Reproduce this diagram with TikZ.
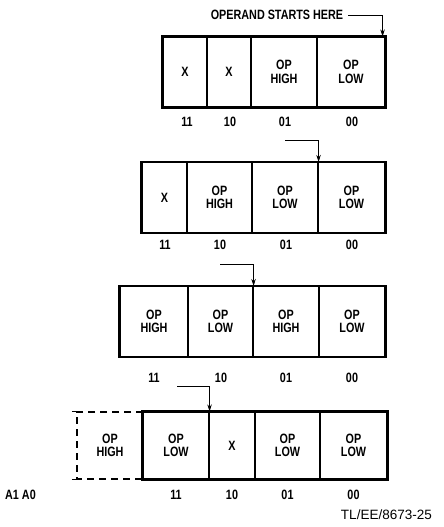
\documentclass[tikz,border=0pt]{standalone}
\usepackage{fontspec}
\setmainfont{Liberation Sans}[FakeStretch=0.8]
\newfontfamily\figfont{Liberation Sans}
\usetikzlibrary{arrows.meta}
\begin{document}
\begin{tikzpicture}[x=1pt,y=-1pt,
  every node/.style={font=\bfseries\fontsize{13.5}{13.5}\selectfont},
  cell/.style={draw,line width=1.1pt,inner sep=0pt,minimum height=70pt,align=center},
  outer/.style={line width=2.4pt},
  lbl/.style={inner sep=0pt},
  ptr/.style={line width=0.8pt,-{Stealth[length=7pt,width=4.5pt]}}]
\useasboundingbox (0,0) rectangle (444,527);
% ---- row 1
\node[cell,minimum width=44pt] (a1) at (185,72) {X};
\node[cell,minimum width=44pt] (a2) at (229,72) {X};
\node[cell,minimum width=66pt] (a3) at (284,72) {OP\\HIGH};
\node[cell,minimum width=68pt] (a4) at (351,72) {OP\\LOW};
\draw[outer] (a1.north west) rectangle (a4.south east);
\node[lbl] (la1) at (187,122) {11};
\node[lbl] (la2) at (230,122) {10};
\node[lbl] (la3) at (285,122) {01};
\node[lbl] (la4) at (352,122) {00};
\node[lbl] (t1) at (277,15) {OPERAND STARTS HERE};
\coordinate (ea) at ([xshift=-3pt]a4.north east);
\draw[ptr] ([xshift=5pt]t1.east) -| (ea);
% ---- row 2
\node[cell,minimum width=45pt] (b1) at (164.5,197.5) {X};
\node[cell,minimum width=65pt] (b2) at (219.5,197.5) {OP\\HIGH};
\node[cell,minimum width=66pt] (b3) at (285,197.5) {OP\\LOW};
\node[cell,minimum width=67pt] (b4) at (351.5,197.5) {OP\\LOW};
\draw[outer] (b1.north west) rectangle (b4.south east);
\node[lbl] (lb1) at (165,245) {11};
\node[lbl] (lb2) at (220,245) {10};
\node[lbl] (lb3) at (286,245) {01};
\node[lbl] (lb4) at (352,245) {00};
\coordinate (sb) at (285,140);
\draw[ptr] (sb) -| (b3.north east);
% ---- row 3
\node[cell,minimum width=68pt] (c1) at (154,321.5) {OP\\HIGH};
\node[cell,minimum width=65pt] (c2) at (220.5,321.5) {OP\\LOW};
\node[cell,minimum width=66pt] (c3) at (286,321.5) {OP\\HIGH};
\node[cell,minimum width=66pt] (c4) at (352,321.5) {OP\\LOW};
\draw[outer] (c1.north west) rectangle (c4.south east);
\node[lbl] (lc1) at (154,378) {11};
\node[lbl] (lc2) at (221,378) {10};
\node[lbl] (lc3) at (286,378) {01};
\node[lbl] (lc4) at (352,378) {00};
\coordinate (sc) at (220,264);
\draw[ptr] (sc) -| (c2.north east);
% ---- row 4
\node[inner sep=0pt,minimum width=66pt,minimum height=67pt,align=center] (d0) at (110,445.5) {OP\\HIGH};
\draw[line width=2.2pt,dash pattern=on 7pt off 5pt] (d0.north east) -- (d0.north west) -- (d0.south west) -- (d0.south east);
\draw[line width=1pt] ([xshift=-5pt]d0.north west) -- ([xshift=5pt]d0.north west);
\draw[line width=1pt] ([xshift=-5pt]d0.south west) -- ([xshift=5pt]d0.south west);
\node[cell,minimum width=66pt,minimum height=67pt] (d1) at (176,445.5) {OP\\LOW};
\node[cell,minimum width=46pt,minimum height=67pt] (d2) at (232,445.5) {X};
\node[cell,minimum width=65pt,minimum height=67pt] (d3) at (287.5,445.5) {OP\\LOW};
\node[cell,minimum width=67pt,minimum height=67pt] (d4) at (353.5,445.5) {OP\\LOW};
\draw[outer] (d1.north west) rectangle (d4.south east);
\node[lbl] (ld1) at (176,495) {11};
\node[lbl] (ld2) at (232,495) {10};
\node[lbl] (ld3) at (287.5,495) {01};
\node[lbl] (ld4) at (353.5,495) {00};
\node[lbl,anchor=west] (addr) at (5,495) {A1 A0};
\coordinate (sd) at (177,386);
\draw[ptr] (sd) -| (d1.north east);
\node[lbl,anchor=east,font=\figfont\fontsize{13.5}{14}\selectfont] (fig) at (432,515) {TL/EE/8673-25};
\end{tikzpicture}
\end{document}
